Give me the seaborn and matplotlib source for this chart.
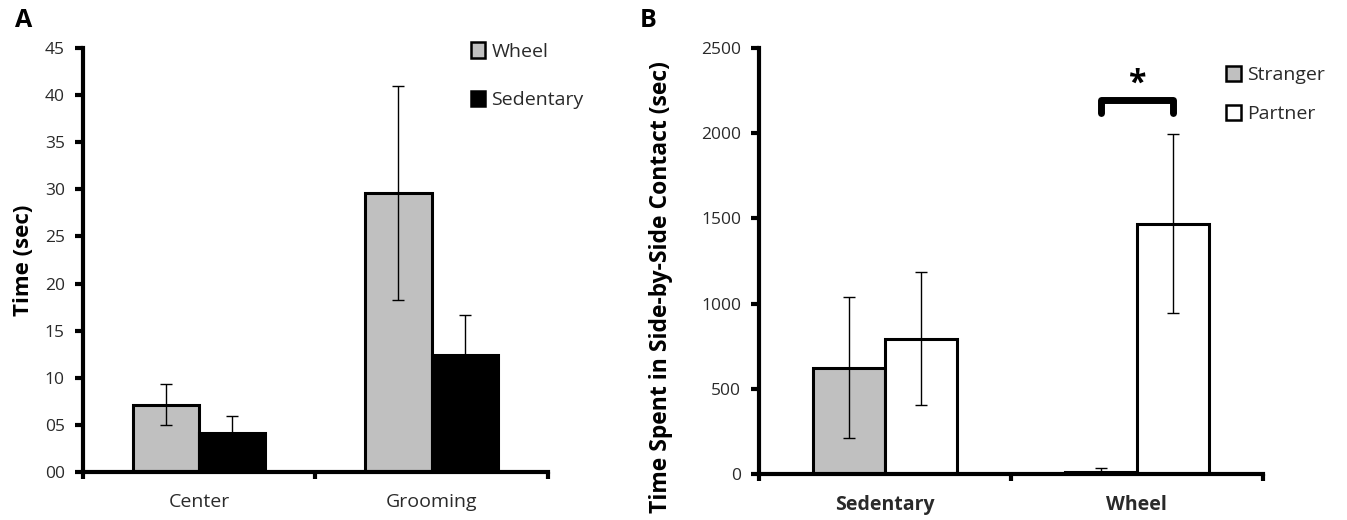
import matplotlib
matplotlib.use("Agg")
import matplotlib.pyplot as plt
import matplotlib.patches as mpatches
import pandas as pd
import seaborn as sns

# Panel A data
a_categories = ["Center", "Grooming"]
a_groups = ["Wheel", "Sedentary"]
a_wheel = [7.15, 29.6]
a_wheel_err = [2.2, 11.35]
a_sed = [4.15, 12.4]
a_sed_err = [1.75, 4.3]
a_ticks = [0, 5, 10, 15, 20, 25, 30, 35, 40, 45]

# Panel B data
b_categories = ["Sedentary", "Wheel"]
b_groups = ["Stranger", "Partner"]
b_stranger = [625, 12]
b_stranger_err = [415, 22]
b_partner = [795, 1470]
b_partner_err = [392, 525]
b_ticks = [0, 500, 1000, 1500, 2000, 2500]

sns.set_theme(style="white")
plt.rcParams["font.family"] = ["Open Sans", "DejaVu Sans"]

fig = plt.figure(figsize=(13.47, 5.2), dpi=100)
ax1 = fig.add_axes([0.0616, 0.0923, 0.345, 0.8154])
ax2 = fig.add_axes([0.5635, 0.0885, 0.374, 0.819])

text_col = "#2a2a2a"


def style_axis(ax, ylim, ticks, fmt, cats, bold_x):
    ax.set_ylim(*ylim)
    ax.set_xlim(-0.5, 1.5)
    for s in ["top", "right"]:
        ax.spines[s].set_visible(False)
    for s in ["left", "bottom"]:
        ax.spines[s].set_linewidth(3)
        ax.spines[s].set_color("black")
        ax.spines[s].set_zorder(5)
    ax.set_yticks(ticks)
    ax.set_yticklabels([fmt(t) for t in ticks], fontsize=12.5, color=text_col)
    ax.tick_params(axis="y", which="major", direction="out", length=6,
                   width=3, color="black", left=True, pad=7)
    ax.set_xticks([-0.5, 0.5, 1.5])
    ax.set_xticklabels([])
    ax.tick_params(axis="x", which="major", direction="out", length=5,
                   width=3, color="black", bottom=True)
    ax.set_xticks([0, 1], minor=True)
    ax.set_xticklabels(cats, minor=True, fontsize=14, color=text_col,
                       fontweight="bold" if bold_x else "normal")
    ax.tick_params(axis="x", which="minor", length=0, pad=15)
    ax.set_xlabel("")
    ax.grid(False)


# ---- Panel A ----
df_a = pd.DataFrame({
    "cat": a_categories * 2,
    "group": [a_groups[0]] * 2 + [a_groups[1]] * 2,
    "val": a_wheel + a_sed,
})
sns.barplot(data=df_a, x="cat", y="val", hue="group", order=a_categories,
            hue_order=a_groups, palette=["#c0c0c0", "black"], width=0.57,
            edgecolor="black", linewidth=2.2, errorbar=None, legend=False, ax=ax1)
for cont, vals, errs in zip(ax1.containers, [a_wheel, a_sed], [a_wheel_err, a_sed_err]):
    xs = [b.get_x() + b.get_width() / 2 for b in cont]
    ax1.errorbar(xs, vals, yerr=errs, fmt="none", ecolor="black",
                 elinewidth=1, capsize=4, capthick=1, zorder=4)
style_axis(ax1, (0, 45), a_ticks, lambda t: f"{t:02d}", a_categories, False)
ax1.set_ylabel("Time (sec)", fontsize=16, fontweight="bold", color="black", labelpad=8)

h_a = [mpatches.Patch(facecolor="#c0c0c0", edgecolor="black", linewidth=1.8),
       mpatches.Patch(facecolor="black", edgecolor="black", linewidth=1.8)]
ax1.legend(h_a, a_groups, loc="upper left", bbox_to_anchor=(0.797, 1.055),
           frameon=False, handlelength=0.75, handleheight=0.85, handletextpad=0.3,
           labelspacing=1.55, fontsize=14, labelcolor=text_col)

# ---- Panel B ----
df_b = pd.DataFrame({
    "cat": b_categories * 2,
    "group": [b_groups[0]] * 2 + [b_groups[1]] * 2,
    "val": b_stranger + b_partner,
})
sns.barplot(data=df_b, x="cat", y="val", hue="group", order=b_categories,
            hue_order=b_groups, palette=["#c0c0c0", "white"], width=0.57,
            edgecolor="black", linewidth=2.2, errorbar=None, legend=False, ax=ax2)
centers = []
for cont, vals, errs in zip(ax2.containers, [b_stranger, b_partner], [b_stranger_err, b_partner_err]):
    xs = [b.get_x() + b.get_width() / 2 for b in cont]
    centers.append(xs)
    ax2.errorbar(xs, vals, yerr=errs, fmt="none", ecolor="black",
                 elinewidth=1, capsize=4, capthick=1, zorder=4)
style_axis(ax2, (0, 2500), b_ticks, lambda t: f"{t}", b_categories, True)
ax2.set_ylabel("Time Spent in Side-by-Side Contact (sec)", fontsize=16.5,
               fontweight="bold", color="black")
ax2.yaxis.set_label_coords(-0.17, 0.44)

# significance bracket on Wheel group
x0, x1 = centers[0][1], centers[1][1]
ax2.plot([x0, x0, x1, x1], [2120, 2195, 2195, 2120], color="black",
         linewidth=5, solid_joinstyle="round", solid_capstyle="round", clip_on=False)
ax2.text((x0 + x1) / 2, 2290, "*", ha="center", va="center", fontsize=23,
         fontweight="bold", color="black")

h_b = [mpatches.Patch(facecolor="#c0c0c0", edgecolor="black", linewidth=1.8),
       mpatches.Patch(facecolor="white", edgecolor="black", linewidth=1.8)]
ax2.legend(h_b, b_groups, loc="upper left", bbox_to_anchor=(0.893, 1.0),
           frameon=False, handlelength=0.75, handleheight=0.85, handletextpad=0.3,
           labelspacing=1.05, fontsize=14, labelcolor=text_col)

fig.text(0.011, 0.985, "A", fontsize=18, fontweight="bold", va="top", color="black")
fig.text(0.475, 0.985, "B", fontsize=18, fontweight="bold", va="top", color="black")

fig.savefig("out.png", dpi=100)
